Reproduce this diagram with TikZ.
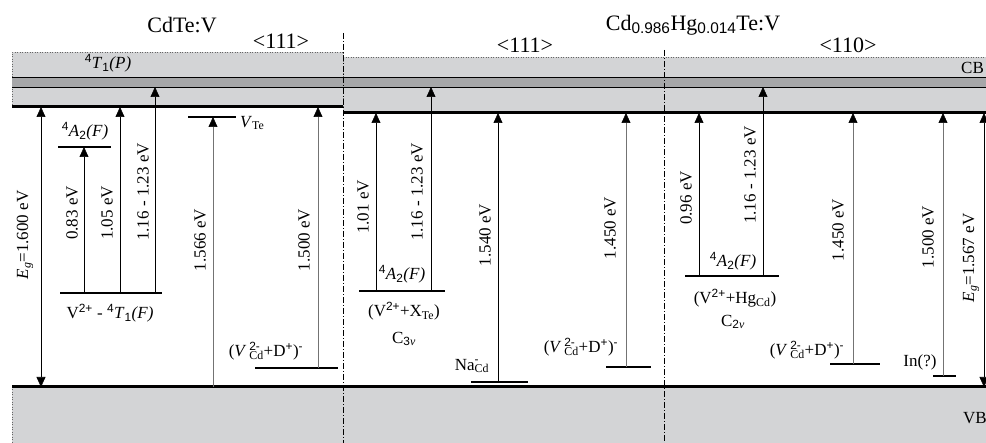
\documentclass[tikz,border=0pt]{standalone}
\usepackage{fontspec}
\setmainfont{Liberation Serif}
\setsansfont{Liberation Sans}
\usetikzlibrary{arrows.meta}

\definecolor{bandgrey}{RGB}{211,212,214}
\definecolor{bandmid}{RGB}{166,167,169}
\definecolor{trgrey}{RGB}{115,115,115}

% super- and subscripts used in the level labels
\newcommand\up[1]{\textsuperscript{\sffamily #1}}
\newcommand\dn[1]{\textsubscript{#1}}
\newcommand\updn[2]{\makebox[0pt][l]{\textsuperscript{\sffamily #1}}\textsubscript{#2}}
\newcommand\Aterm{\up{4}\textit{A}\dn{\sffamily 2}\textit{(F)}}
\newcommand\VcdD{(\textit{V}\,\updn{2-}{Cd}+D\up{+})\up{-}}

\begin{document}
\begin{tikzpicture}[x=1pt,y=-1pt,
  tr/.style={-{Triangle[length=10pt,width=9pt]}, line width=0.6pt},
  trd/.style={tr, draw=trgrey, -{Triangle[length=10pt,width=9pt,color=black]}},
  gap/.style={{Triangle[length=10pt,width=9pt]}-{Triangle[length=10pt,width=9pt]}, line width=0.6pt},
  lvl/.style={line width=1.7pt},
  edge/.style={line width=3pt},
  lbl/.style={font=\fontsize{17}{19}\selectfont, inner sep=0pt},
  rlbl/.style={lbl, rotate=90},
  ttl/.style={font=\fontsize{22}{24}\selectfont, inner sep=0pt},
  sep/.style={line width=0.5pt, dash pattern=on 6pt off 2pt on 1pt off 2pt},
  rim/.style={draw=black!60, line width=0.5pt, dotted}]
\useasboundingbox (0,0) rectangle (986,443);

% conduction band of CdTe (left) and of CdHgTe (right)
\fill[bandgrey] (343,57) rectangle (986,113);
\draw[rim] (343,57) -- (986,57);
\fill[bandgrey] (12,52) rectangle (343,107);
\draw[rim] (12,107) -- (12,52) -- (343,52) -- (343,107);
% 4T1(P) band
\fill[bandmid] (12,77) rectangle (986,87);
\draw[line width=0.6pt] (12,77) -- (986,77) (12,87) -- (986,87);
\draw[edge] (12,107) -- (343,107);
\draw[edge] (343,113) -- (986,113);

% valence band
\fill[bandgrey] (12,387) rectangle (986,443);
\draw[rim] (12,387) -- (12,443);
\draw[edge] (12,387) -- (986,387);

% section separators
\draw[sep] (343,33) -- (343,443);
\draw[sep] (664,50) -- (664,443);

% titles
\node[ttl] (t1) at (182,25) {CdTe:V};
\node[ttl] (o1) at (281,41) {<111>};
\node[ttl] (o2) at (525,45) {<111>};
\node[ttl] (t2) at (693,25) {Cd\textsubscript{\sffamily 0.986}Hg\textsubscript{\sffamily 0.014}Te:V};
\node[ttl] (o3) at (848,45) {<110>};
\node[lbl, anchor=west] (cb) at (961,68) {CB};
\node[lbl, anchor=west] (vb) at (963,418) {VB};
\node[lbl] (tp) at (108,63) {\up{4}\textit{T}\dn{\sffamily 1}\textit{(P)}};

% ---- CdTe:V ----
\draw[gap] (41,107) -- (41,387);
\node[rlbl] at (25,235) {\textit{E}\textsubscript{\textit{g}}=1.600 eV};
\draw[lvl] (60,293) -- (162,293);
\node[lbl] at (110,313) {V\up{2+} - \up{4}\textit{T}\dn{\sffamily 1}\textit{(F)}};
\draw[lvl] (58,147) -- (111,147);
\node[lbl] at (85,131) {\Aterm};
\draw[tr] (84,293) -- (84,147);
\node[rlbl] at (72,213) {0.83 eV};
\draw[tr] (120,293) -- (120,107);
\node[rlbl] at (107,213) {1.05 eV};
\draw[tr] (155,293) -- (155,87);
\node[rlbl] at (143,192) {1.16 - 1.23 eV};
\draw[lvl] (188,117) -- (236,117);
\node[lbl, anchor=west] at (240,123) {\textit{V}\dn{Te}};
\draw[trd] (213,387) -- (213,117);
\node[rlbl] at (200,240) {1.566 eV};
\draw[lvl] (255,368) -- (338,368);
\node[lbl] at (266,351) {\VcdD};
\draw[trd] (318,368) -- (318,107);
\node[rlbl] at (304,240) {1.500 eV};

% ---- CdHgTe:V, <111> ----
\draw[lvl] (359,291) -- (445,291);
\node[lbl] at (402,274) {\Aterm};
\node[lbl] at (404,311) {(V\up{2+}+X\dn{Te})};
\node[lbl] at (404,339) {C\dn{\sffamily 3\textit{\rmfamily v}}};
\draw[tr] (376,291) -- (376,113);
\node[rlbl] at (363,207) {1.01 eV};
\draw[tr] (431,291) -- (431,87);
\node[rlbl] at (417,192) {1.16 - 1.23 eV};
\draw[lvl] (471,382) -- (528,382);
\node[lbl] at (472,366) {Na\updn{-}{Cd}};
\draw[tr] (498,382) -- (498,113);
\node[rlbl] at (485,235) {1.540 eV};
\draw[lvl] (606,367) -- (651,367);
\node[lbl] at (581,347) {\VcdD};
\draw[trd] (626,367) -- (626,113);
\node[rlbl] at (610,228) {1.450 eV};

% ---- CdHgTe:V, <110> ----
\draw[lvl] (685,276) -- (779,276);
\node[lbl] at (733,261) {\Aterm};
\node[lbl] at (735,298) {(V\up{2+}+Hg\dn{Cd})};
\node[lbl] at (733,322) {C\dn{\sffamily 2\textit{\rmfamily v}}};
\draw[tr] (699,276) -- (699,113);
\node[rlbl] at (686,198) {0.96 eV};
\draw[tr] (763,276) -- (763,87);
\node[rlbl] at (750,175) {1.16 - 1.23 eV};
\draw[lvl] (830,364) -- (880,364);
\node[lbl] at (807,350) {\VcdD};
\draw[trd] (853,364) -- (853,113);
\node[rlbl] at (838,230) {1.450 eV};
\draw[lvl] (933,376) -- (956,376);
\node[lbl] at (920,362) {In(?)};
\draw[trd] (943,376) -- (943,113);
\node[rlbl] at (928,237) {1.500 eV};
\draw[gap] (984,113) -- (984,387);
\node[rlbl] at (971,258) {\textit{E}\textsubscript{\textit{g}}=1.567 eV};
\end{tikzpicture}
\end{document}
